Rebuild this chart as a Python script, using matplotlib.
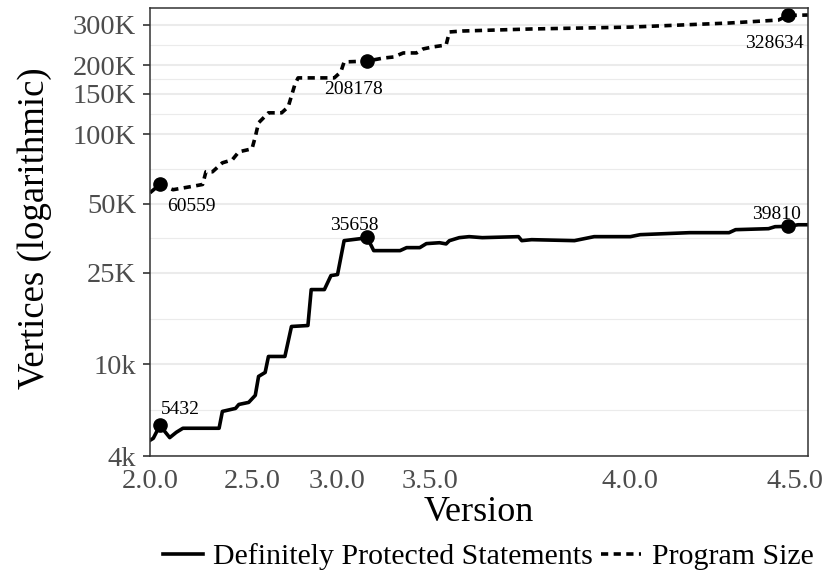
import matplotlib
matplotlib.use("Agg")
import matplotlib.pyplot as plt
import numpy as np

plt.rcParams['font.family'] = ['Liberation Serif', 'DejaVu Serif']

# release index (position on the version axis) and vertex counts
protected_x = [0, 1, 3, 6, 8, 10, 21, 22, 26, 27, 30, 32, 33, 35, 36,
               41, 43, 48, 49, 53, 55, 57, 59, 64, 66, 68, 76, 78, 82, 84,
               88, 90, 91, 94, 97, 101, 112, 113, 116, 129, 135, 146, 149,
               164, 176, 178, 188, 190, 194, 197, 200]
protected_y = [4680, 4775, 5432, 4808, 5070, 5280, 5280, 6250, 6440, 6700,
               6840, 7340, 8870, 9230, 10830, 10830, 14620, 14760, 21150,
               21150, 24330, 24580, 34510, 35210, 35658, 31230, 31230, 32180,
               32180, 33500, 33800, 33400, 34500, 35560, 35920, 35560, 35920,
               34510, 34850, 34510, 35920, 35920, 36640, 37380, 37380, 38520,
               38900, 39690, 39810, 40460, 40460]

size_x = [0, 3, 7, 14, 16, 17, 19, 22, 25, 27, 31, 32, 33, 36, 40, 42, 44,
          45, 56, 58, 59, 66, 71, 74, 77, 81, 83, 86, 90, 91, 95, 116, 146,
          176, 191, 194, 200]
size_y = [55720, 60559, 57450, 59800, 60560, 68750, 68750, 75200, 77460,
          83950, 86500, 97530, 112200, 124000, 124000, 131600, 164000, 175900,
          175900, 186700, 206300, 208178, 214600, 216800, 225800, 225800,
          235000, 239800, 244400, 278500, 281200, 287000, 292400, 304600,
          313800, 328634, 330000]

marked_x = [3, 66, 194]
protected_marked = [5432, 35658, 39810]
size_marked = [60559, 208178, 328634]

version_labels = ['2.0.0', '2.5.0', '3.0.0', '3.5.0', '4.0.0', '4.5.0']
version_idx = [0, 31, 57, 85, 146, 196]

ytick_vals = [4000, 10000, 25000, 50000, 100000, 150000, 200000, 300000]
ytick_labels = ['4k', '10k', '25K', '50K', '100K', '150K', '200K', '300K']

fig = plt.figure(figsize=(8.28, 5.83), dpi=100)
ax = fig.add_axes([150/828, 1-456/583, 658/828, 448/583])

ax.set_yscale('log')
ax.set_xlim(0, 200)
ax.set_ylim(4000, 354000)

# grid lines (major at breaks, minor at geometric midpoints)
minor = np.sqrt(np.array(ytick_vals[:-1]) * np.array(ytick_vals[1:]))
for v in minor:
    ax.axhline(v, color='#EBEBEB', lw=0.8, zorder=0)
for v in ytick_vals:
    ax.axhline(v, color='#EBEBEB', lw=1.5, zorder=0)

ax.plot(protected_x, protected_y, color='black', lw=2.6,
        solid_joinstyle='round', label='Definitely Protected Statements')
ax.plot(size_x, size_y, color='black', lw=2.6, dashes=(2.0, 1.5),
        label='Program Size')
ax.plot(marked_x, protected_marked, 'o', color='black', ms=9.5)
ax.plot(marked_x, size_marked, 'o', color='black', ms=9.5)

# labels on the marked points: (dx, dy) in pixels, alignment
prot_off = [(1, 11, 'left'), (-13, 7, 'center'), (-12, 7, 'center')]
size_off = [(32, -27, 'center'), (-14, -33, 'center'), (-14, -33, 'center')]
for x, v, (dx, dy, ha) in zip(marked_x, protected_marked, prot_off):
    ax.annotate(str(v), (x, v), xytext=(dx, dy), textcoords='offset pixels',
                ha=ha, va='baseline', fontsize=14, annotation_clip=False)
for x, v, (dx, dy, ha) in zip(marked_x, size_marked, size_off):
    ax.annotate(str(v), (x, v), xytext=(dx, dy), textcoords='offset pixels',
                ha=ha, va='baseline', fontsize=14, annotation_clip=False)

ax.set_yticks(ytick_vals)
ax.set_yticklabels(ytick_labels)
ax.yaxis.set_minor_locator(matplotlib.ticker.NullLocator())
ax.set_xticks(version_idx)
ax.set_xticklabels(version_labels)

ax.tick_params(axis='y', length=5, width=1.2, color='#333333',
               labelsize=20.5, labelcolor='#4D4D4D', pad=5)
ax.tick_params(axis='x', length=0, labelsize=20.5, labelcolor='#4D4D4D', pad=9)

for s in ax.spines.values():
    s.set_color('#333333')
    s.set_linewidth(1.1)

ax.set_xlabel('Version', fontsize=26, labelpad=2)
ax.set_ylabel('Vertices (logarithmic)', fontsize=26.5)
ax.yaxis.set_label_coords(-0.149, 0.508)

fig.legend(loc='center', bbox_to_anchor=(488/828, 1-557/583), ncol=2,
           frameon=False, fontsize=21.5, handlelength=1.35, handletextpad=0.35,
           columnspacing=0.25, borderaxespad=0, borderpad=0)

fig.savefig('out.png', dpi=100)
